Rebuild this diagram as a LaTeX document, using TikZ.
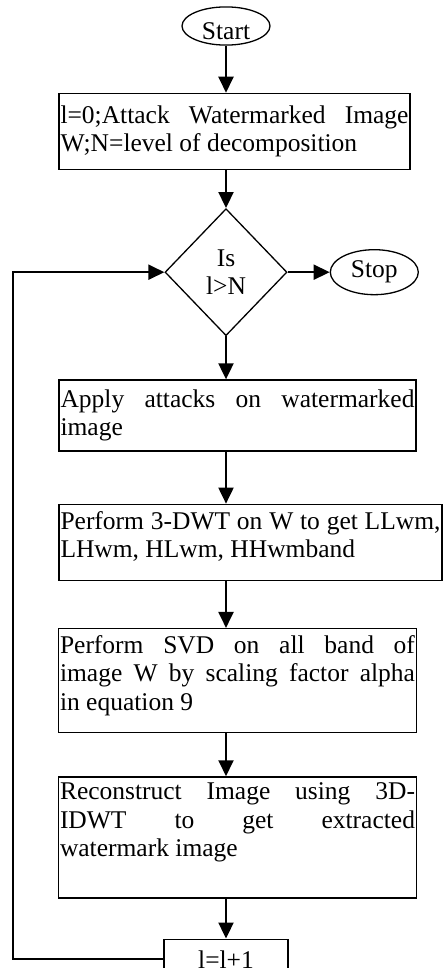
\documentclass[tikz,border=0pt]{standalone}
\usepackage{fontspec}
\setmainfont{Liberation Serif}
\usetikzlibrary{shapes.geometric,arrows.meta,positioning}
\hyphenpenalty=10000
\exhyphenpenalty=10000
\tolerance=10000

\begin{document}
\begin{tikzpicture}[
    every node/.style={font=\fontsize{25.5pt}{28.5pt}\selectfont},
    terminal/.style={draw, ellipse, line width=1.3pt, inner sep=0pt, minimum width=88pt},
    procbox/.style={draw, rectangle, line width=1.3pt, align=justify, inner xsep=1.5pt, inner ysep=0pt},
    decision/.style={draw, diamond, line width=1.3pt, align=center, inner sep=0pt, minimum width=122pt, minimum height=127pt},
    countbox/.style={draw, rectangle, line width=1.3pt, minimum width=124pt, minimum height=40pt},
    lift/.style={execute at end node={\endgraf\vspace*{#1}}},
    flow/.style={line width=2pt, -{Triangle[length=16pt,width=15pt]}}
]
    \useasboundingbox (0,0) rectangle (444pt,-968pt);
    \fill[white] (0,0) rectangle (444pt,-968pt);
    % Start and test
    \node[terminal, minimum height=38pt, text height=27pt, text depth=0pt] (start) at (226pt,-26pt) {Start};
    \node[procbox, text width=348pt, minimum height=76pt, below=47pt of start, xshift=8.5pt] (init)
        {l=0;Attack Watermarked Image\linebreak W;N=level of decomposition};
    \node[decision, below=38pt of init, xshift=-8.5pt] (check) {Is\\l>N};
    \node[terminal, minimum height=45pt, right=42pt of check] (stop) {Stop};
    % Steps of one level
    \node[procbox, text width=354pt, minimum height=71pt, below=43pt of check, xshift=11.5pt] (apply)
        {Apply attacks on watermarked\linebreak image};
    \node[procbox, text width=380pt, minimum height=76pt, lift=12pt, below=52pt of apply, xshift=13pt] (dwt)
        {Perform 3-DWT on W to get LLwm,\linebreak LHwm, HLwm, HHwmband};
    \node[procbox, text width=355pt, minimum height=104pt, lift=10pt, below=47pt of dwt, xshift=-13pt] (svd)
        {Perform SVD on all band of\linebreak image W by scaling factor alpha\linebreak in equation 9};
    \node[procbox, text width=355pt, minimum height=121pt, lift=30pt, below=43pt of svd] (recon)
        {Reconstruct Image using 3D-\linebreak IDWT to get extracted\linebreak watermark image};
    \node[countbox, below=40pt of recon, xshift=-11.5pt] (incr) {l=l+1};
    % Arrows down the page
    \draw[flow] (start) -- (init.north -| start);
    \draw[flow] (init.south -| start) -- (check);
    \draw[flow] (check) -- (stop);
    \draw[flow] (check) -- (apply.north -| check);
    \draw[flow] (apply.south -| check) -- (dwt.north -| check);
    \draw[flow] (dwt.south -| check) -- (svd.north -| check);
    \draw[flow] (svd.south -| check) -- (recon.north -| check);
    \draw[flow] (recon.south -| check) -- (incr);
    % Loop back to the test
    \coordinate (back) at (13pt,0);
    \draw[flow] (incr.west) -- (incr.west -| back) -- (check.west -| back) -- (check.west);
\end{tikzpicture}
\end{document}
